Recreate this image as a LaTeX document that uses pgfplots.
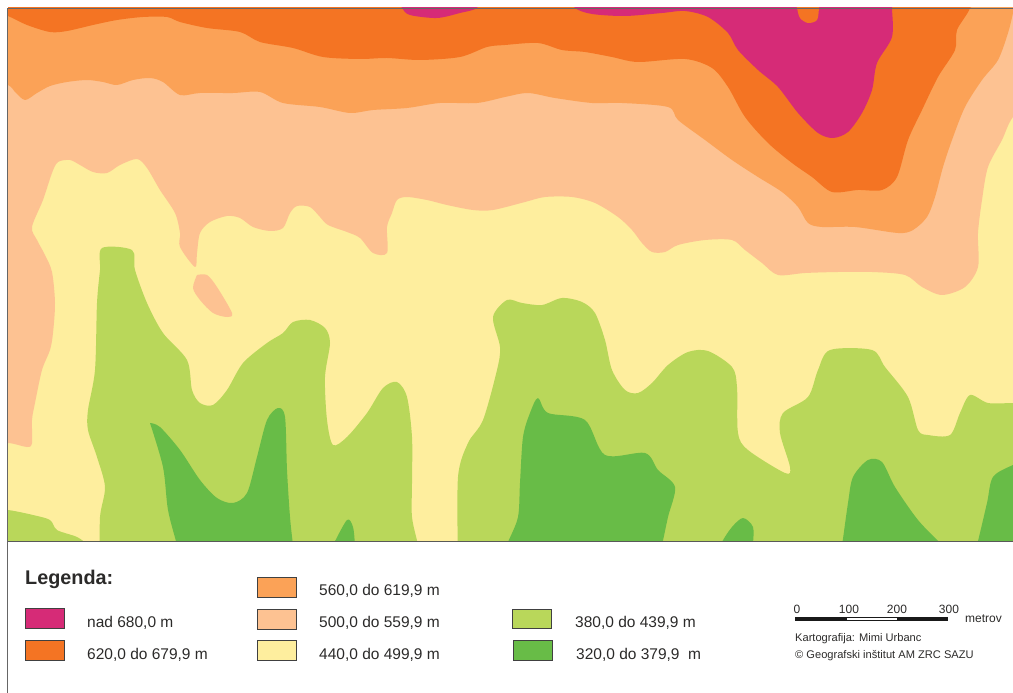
\documentclass[border=0pt]{standalone}
\usepackage{pgfplots}
\pgfplotsset{compat=1.18}
\usepackage{fontspec}
\setmainfont{Liberation Sans}

\definecolor{cpink}{HTML}{D62B77}
\definecolor{corange}{HTML}{F47423}
\definecolor{clight}{HTML}{FBA257}
\definecolor{cpeach}{HTML}{FDC292}
\definecolor{cyellow}{HTML}{FEEE9E}
\definecolor{clime}{HTML}{B9D75A}
\definecolor{cgreen}{HTML}{68BC47}
\definecolor{ctext}{HTML}{2B2A29}

\pgfplotsset{
    zone/.style={draw=none, fill=#1, smooth, tension=0.5, no markers, forget plot},
    swatch/.style={draw=black!75, line width=0.7pt, fill=#1, no markers, forget plot},
    pagebox/.style={scale only axis, hide axis, y dir=reverse},
}
\tikzset{
    lab/.style={anchor=base west, inner sep=0pt, text=ctext, font=\fontsize{15.5}{18}\selectfont},
    small/.style={anchor=base west, inner sep=0pt, text=ctext, font=\fontsize{11.1}{13}\selectfont},
    num/.style={anchor=base, inner sep=0pt, text=ctext, font=\fontsize{12}{14}\selectfont},
}

\begin{document}
\begin{tikzpicture}
\path[use as bounding box] (0,0) rectangle (1013pt,693pt);

% map, coordinates are pixels of the picture
\begin{axis}[
    pagebox, at={(8pt,152pt)}, anchor=south west,
    width=1005pt, height=533pt,
    xmin=8, xmax=1013, ymin=8, ymax=541,
]
\addplot[draw=none, fill=cyellow, no markers, forget plot] coordinates {(-20,-20) (1040,-20) (1040,560) (-20,560)};

% 500-559.9
\addplot[zone=cpeach] coordinates {
 (-20,445) (8,443) (27,447) (32,443) (32,420) (35,403) (42,370) (50,350) (53,333) (55,303) (52,272)
 (45,255) (37,240) (32,227) (43,200) (52,173) (58,162) (70,160) (80,165) (93,172) (107,173) (120,165)
 (137,159) (147,168) (160,190) (175,213) (180,233) (180,247) (195,267) (197,253) (200,233) (210,222)
 (227,216) (240,218) (253,227) (270,231) (283,228) (290,213) (297,206) (310,207) (320,217) (328,225)
 (347,232) (360,238) (373,253) (387,253) (387,227) (392,213) (397,200) (407,197) (427,200) (447,205)
 (473,210) (493,210) (525,202) (545,197) (572,197) (595,203) (618,217) (632,230) (642,243) (652,252)
 (665,252) (678,245) (705,240) (732,240) (745,250) (762,263) (778,275) (805,273) (838,272) (872,272)
 (905,275) (922,287) (942,295) (965,287) (978,267) (978,233) (982,200) (988,167) (1002,140) (1013,117)
 (1040,90) (1040,-20) (-20,-20)
};
\addplot[zone=cpeach] coordinates {
 (197,275) (207,275) (217,287) (232,313) (227,317) (213,313) (200,300) (193,288) (197,275)
};
% 560-619.9
\addplot[zone=clight] coordinates {
 (-20,75) (8,85) (15,92) (25,100) (37,93) (50,86) (67,82) (87,80) (103,82) (117,85) (133,80) (150,78)
 (163,82) (180,95) (200,93) (233,93) (260,92) (283,103) (320,107) (350,113) (373,110) (407,108)
 (440,103) (477,103) (505,97) (528,93) (555,98) (592,103) (622,103) (668,107) (678,120) (705,140)
 (732,160) (758,177) (782,192) (798,207) (808,223) (822,227) (855,227) (898,233) (913,230) (927,217)
 (935,197) (943,167) (952,140) (965,107) (982,80) (998,60) (1008,33) (1013,13) (1020,-20) (-20,-20)
};
% 620-679.9
\addplot[zone=corange] coordinates {
 (-20,5) (8,16) (27,25) (50,32) (67,31) (93,25) (117,20) (143,17) (167,17) (180,22) (207,28) (240,32)
 (260,42) (293,48) (323,57) (360,59) (387,58) (420,60) (460,57) (487,47) (505,45) (538,43) (562,50)
 (585,52) (612,57) (638,62) (685,59) (712,68) (728,87) (745,117) (768,143) (792,163) (812,177)
 (832,192) (858,190) (882,190) (897,177) (908,140) (922,110) (938,77) (955,50) (957,30) (970,8)
 (975,-20) (-20,-20)
};
% nad 680
\addplot[zone=cpink] coordinates {
 (396,-5) (402,8) (410,15) (437,18) (460,13) (477,8) (483,-5)
};
\addplot[zone=cpink] coordinates {
 (568,-5) (575,8) (592,14) (625,16) (662,13) (685,11) (708,17) (728,33) (738,50) (758,70) (778,87)
 (798,113) (818,133) (833,138) (848,132) (862,113) (872,90) (877,63) (892,37) (892,8) (892,-5)
};
\addplot[zone=corange] coordinates {
 (795,-3) (797,8) (800,18) (808,23) (817,20) (819,8) (820,-3)
};

% 380-439.9
\addplot[zone=clime] coordinates {
 (100,560) (100,517) (105,487) (97,457) (88,430) (88,410) (95,370) (97,303) (100,270) (102,248)
 (132,250) (135,270) (147,303) (163,333) (187,360) (192,390) (200,403) (213,405) (227,390) (243,363)
 (267,343) (283,333) (293,322) (310,320) (325,328) (330,343) (325,377) (327,420) (333,445) (347,437)
 (367,413) (383,388) (397,382) (407,397) (412,437) (412,483) (412,517) (418,545) (420,560)
};
\addplot[zone=clime] coordinates {
 (-20,508) (8,510) (33,515) (50,520) (57,530) (77,537) (87,545) (95,560) (-20,560)
};
\addplot[zone=clime] coordinates {
 (458,560) (458,477) (468,443) (483,420) (497,370) (500,347) (493,317) (507,300) (522,303) (542,305)
 (562,298) (582,302) (595,313) (605,340) (612,370) (625,390) (638,393) (652,383) (668,365) (688,352)
 (708,351) (732,367) (737,387) (738,433) (748,450) (785,473) (790,467) (780,433) (783,413) (808,397)
 (818,370) (830,350) (872,350) (885,367) (908,397) (918,430) (928,435) (950,435) (960,413) (970,395)
 (988,403) (1013,403) (1040,403) (1040,560)
};

% 320-379.9
\addplot[zone=cgreen] coordinates {
 (150,423) (160,427) (180,450) (200,480) (217,498) (233,503) (247,493) (257,457) (267,420) (278,408)
 (285,417) (287,470) (290,517) (293,545) (295,560) (180,560) (177,545) (168,510) (163,467) (150,423)
};
\addplot[zone=cgreen] coordinates {
 (325,560) (333,545) (347,520) (353,527) (355,545) (356,560)
};
\addplot[zone=cgreen] coordinates {
 (500,560) (508,542) (518,517) (520,483) (523,437) (530,413) (538,398) (548,413) (585,420) (605,455)
 (645,453) (658,470) (675,487) (668,517) (662,545) (658,560)
};
\addplot[zone=cgreen] coordinates {
 (715,560) (722,542) (732,527) (743,518) (753,527) (753,545) (753,560)
};
\addplot[zone=cgreen] coordinates {
 (838,560) (842,545) (848,503) (853,477) (868,460) (882,462) (895,487) (918,520) (942,545) (955,560)
};
\addplot[zone=cgreen] coordinates {
 (972,560) (977,545) (987,503) (993,477) (1013,465) (1040,455) (1040,560)
};
\end{axis}

% frame, legend and scale
\begin{axis}[
    pagebox, at={(0pt,0pt)}, anchor=south west,
    width=1013pt, height=693pt,
    xmin=0, xmax=1013, ymin=0, ymax=693, clip=false,
]
\addplot[draw=black!60, line width=0.8pt, no markers, forget plot] coordinates {(1013,8) (7.5,8) (7.5,693)};
\addplot[draw=black!65, line width=0.8pt, no markers, forget plot] coordinates {(7.5,541.5) (1013,541.5)};

\addplot[swatch=cpink] coordinates {(25,608) (64,608) (64,628) (25,628) (25,608)};
\addplot[swatch=corange] coordinates {(25,640) (64,640) (64,660) (25,660) (25,640)};
\addplot[swatch=clight] coordinates {(257,577) (296,577) (296,597) (257,597) (257,577)};
\addplot[swatch=cpeach] coordinates {(257,609) (296,609) (296,629) (257,629) (257,609)};
\addplot[swatch=cyellow] coordinates {(257,640) (296,640) (296,660) (257,660) (257,640)};
\addplot[swatch=clime] coordinates {(512,609) (551,609) (551,628) (512,628) (512,609)};
\addplot[swatch=cgreen] coordinates {(513,640) (552,640) (552,660) (513,660) (513,640)};

% scale bar
\addplot[draw=none, fill=black!90, no markers, forget plot] coordinates {(795,617) (948,617) (948,621) (795,621)};
\addplot[draw=none, fill=white, no markers, forget plot] coordinates {(847,618) (897,618) (897,620) (847,620)};

\node[anchor=base west, inner sep=0pt, text=ctext, font=\fontsize{19.8}{22}\selectfont\bfseries] at (axis cs:25,584) {Legenda:};
\node[lab] at (axis cs:87,627) {nad 680,0 m};
\node[lab] at (axis cs:87,659) {620,0 do 679,9 m};
\node[lab] at (axis cs:319,595) {560,0 do 619,9 m};
\node[lab] at (axis cs:319,627) {500,0 do 559,9 m};
\node[lab] at (axis cs:319,659) {440,0 do 499,9 m};
\node[lab] at (axis cs:575,627) {380,0 do 439,9 m};
\node[lab] at (axis cs:576,659) {320,0 do 379,9\ \ m};

\node[num] at (axis cs:797,613) {0};
\node[num] at (axis cs:849,613) {100};
\node[num] at (axis cs:897,613) {200};
\node[num] at (axis cs:949,613) {300};
\node[num, anchor=base west] at (axis cs:965,622) {metrov};
\node[small] at (axis cs:795,641) {Kartografija: Mimi Urbanc};
\node[small] at (axis cs:795,658) {© Geografski inštitut AM ZRC SAZU};
\end{axis}
\end{tikzpicture}
\end{document}
